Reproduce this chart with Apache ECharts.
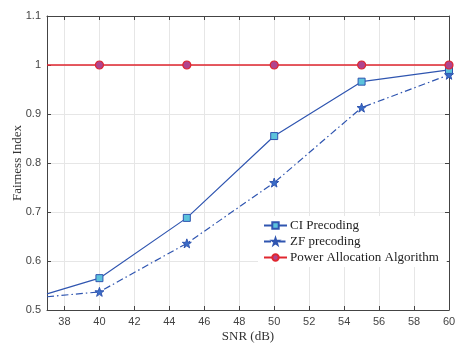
<!DOCTYPE html>
<html>
<head>
<meta charset="utf-8">
<script src="https://cdn.jsdelivr.net/npm/echarts@6/dist/echarts.min.js"></script>
<style>
  html, body { margin: 0; padding: 0; background: #fff; }
  #chart { width: 455px; height: 343px; }
</style>
</head>
<body>
<div id="chart"></div>
<script>
// SNR values (dB); 37 is the left edge where the curves start without a marker
const snr = [37, 40, 45, 50, 55, 60]
const ciPrecoding = [0.533, 0.565, 0.688, 0.855, 0.966, 0.99]
const zfPrecoding = [0.527, 0.537, 0.636, 0.76, 0.913, 0.98]
const powerAlloc = [1, 1, 1, 1, 1, 1]
const xTicks = [38, 40, 42, 44, 46, 48, 50, 52, 54, 56, 58, 60]

const STAR = 'path://M50,0 L61.8,35.1 L97.6,34.5 L69,56.7 L79.4,90.5 L50,70 L20.6,90.5 L31,56.7 L2.4,34.5 L38.2,35.1 Z'
const serif = "'Liberation Serif', 'DejaVu Serif', serif"
const sans = "'Liberation Sans', Arial, sans-serif"

function pts(vals) {
  return snr.map((x, i) => i === 0 ? { value: [x, vals[i]], symbol: 'none' } : [x, vals[i]])
}

const chart = echarts.init(document.getElementById('chart'), null, { renderer: 'canvas' })

const axisLine = { show: true, lineStyle: { color: '#444', width: 1 } }
const split = { show: true, lineStyle: { color: '#e6e6e6', width: 1 } }
const tick = { inside: true, length: 4, lineStyle: { color: '#444' } }

chart.setOption({
  animation: false,
  grid: { left: 47, right: 6, top: 16, bottom: 33, containLabel: false, outerBoundsMode: 'none' },
  legend: {
    left: 258,
    top: 216,
    orient: 'vertical',
    itemWidth: 23,
    itemHeight: 8,
    itemGap: 3,
    backgroundColor: '#fff',
    padding: [3, 8, 3, 5],
    textStyle: { fontFamily: serif, fontSize: 13, color: '#222', padding: [0, 0, 0, -2] },
    data: ['CI Precoding', 'ZF precoding', 'Power Allocation Algorithm'],
  },
  xAxis: [
    {
      type: 'value', min: 37, max: 60,
      axisLine,
      axisTick: { ...tick, customValues: xTicks },
      axisLabel: { color: '#444', fontFamily: sans, fontSize: 11, margin: 6, customValues: xTicks },
      splitLine: split,
      name: 'SNR (dB)', nameLocation: 'middle', nameGap: 20, nameMoveOverlap: false,
      nameTextStyle: { fontFamily: serif, fontSize: 13, color: '#333' },
    },
    {
      type: 'value', min: 37, max: 60, position: 'top',
      axisLine, axisLabel: { show: false },
      axisTick: { ...tick, customValues: xTicks },
      splitLine: { show: false },
    },
  ],
  yAxis: [
    {
      type: 'value', min: 0.5, max: 1.1, interval: 0.1,
      axisLine, axisTick: tick,
      axisLabel: {
        color: '#444', fontFamily: sans, fontSize: 11, margin: 6,
        formatter: v => String(Math.round(v * 10) / 10),
      },
      splitLine: split,
      name: 'Fairness Index', nameLocation: 'middle', nameGap: 23, nameMoveOverlap: false,
      nameTextStyle: { fontFamily: serif, fontSize: 13, color: '#333' },
    },
    {
      type: 'value', min: 0.5, max: 1.1, interval: 0.1, position: 'right',
      axisLine, axisLabel: { show: false },
      axisTick: tick,
      splitLine: { show: false },
    },
  ],
  series: [
    {
      name: 'CI Precoding', type: 'line', data: pts(ciPrecoding),
      symbol: 'rect', symbolSize: 7,
      lineStyle: { color: '#2f55b0', width: 1.2 },
      itemStyle: { color: '#5cc3dc', borderColor: '#2f55b0', borderWidth: 1 },
      z: 3,
    },
    {
      name: 'ZF precoding', type: 'line', data: pts(zfPrecoding),
      symbol: STAR, symbolSize: 9,
      lineStyle: { color: '#2f55b0', width: 1.2, type: [7, 3, 1.5, 3] },
      itemStyle: { color: '#3a6cc8', borderColor: '#2f55b0', borderWidth: 1 },
      z: 2,
    },
    {
      name: 'Power Allocation Algorithm', type: 'line', data: pts(powerAlloc),
      symbol: 'circle', symbolSize: 8,
      lineStyle: { color: '#e0262f', width: 1.4 },
      itemStyle: { color: '#b0448e', borderColor: '#e0262f', borderWidth: 1.2 },
      z: 4,
    },
  ],
})
</script>
</body>
</html>
